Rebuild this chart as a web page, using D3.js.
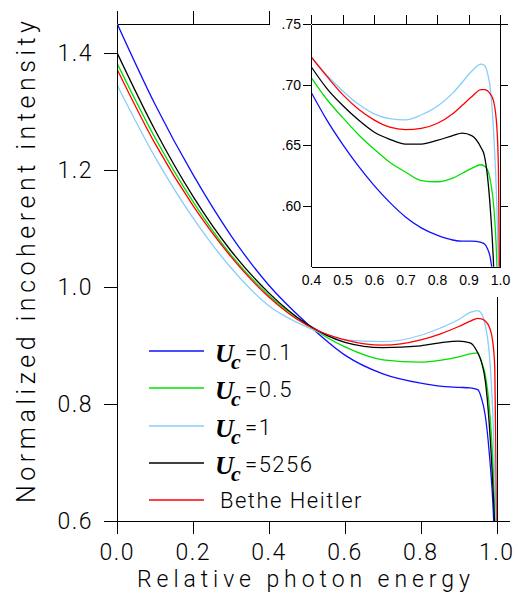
<!DOCTYPE html>
<html>
<head>
<meta charset="utf-8">
<script src="https://cdnjs.cloudflare.com/ajax/libs/d3/7.8.5/d3.min.js"></script>
<style>
body { margin: 0; background: #fff; }
svg { display: block; }
.axis path, .axis line { stroke: #000; stroke-width: 1; shape-rendering: crispEdges; }
.lbl { font-family: Roboto, sans-serif; font-weight: 300; fill: #000; }
.ilbl { font-family: "Liberation Sans", Arial, sans-serif; fill: #000; }
</style>
</head>
<body>
<svg id="chart" width="518" height="596"></svg>
<script>
// main plot data (relative photon energy vs normalized intensity)
var mainX = [0, 0.1, 0.2, 0.3, 0.4, 0.5, 0.6, 0.7, 0.8, 0.85, 0.9, 0.93, 0.95, 0.96, 0.97, 0.98, 0.99, 0.995, 1.0];
var mainBlue = [1.450, 1.312, 1.192, 1.088, 1.003, 0.938, 0.884, 0.852, 0.836, 0.831, 0.829, 0.828, 0.825, 0.810, 0.780, 0.720, 0.630, 0.560, 0.50];
var mainGreen = [1.382, 1.255, 1.146, 1.055, 0.986, 0.936, 0.898, 0.876, 0.872, 0.875, 0.881, 0.886, 0.888, 0.872, 0.850, 0.800, 0.700, 0.620, 0.50];
var mainLight = [1.345, 1.222, 1.118, 1.033, 0.968, 0.932, 0.910, 0.907, 0.918, 0.930, 0.945, 0.957, 0.960, 0.955, 0.935, 0.890, 0.780, 0.680, 0.55];
var mainBlack = [1.400, 1.268, 1.155, 1.062, 0.990, 0.937, 0.906, 0.897, 0.900, 0.905, 0.908, 0.905, 0.888, 0.872, 0.840, 0.770, 0.660, 0.590, 0.50];
var mainRed = [1.372, 1.245, 1.139, 1.052, 0.983, 0.935, 0.910, 0.901, 0.910, 0.920, 0.933, 0.942, 0.947, 0.946, 0.942, 0.933, 0.905, 0.860, 0.60];

// inset data
var insetX = [0.40, 0.45, 0.50, 0.55, 0.60, 0.65, 0.70, 0.75, 0.80, 0.85, 0.88, 0.91, 0.94, 0.95, 0.96, 0.97, 0.98, 0.99, 0.995, 1.00];
var insetBlue = [.694, .671, .651, .633, .617, .603, .591, .582, .576, .572, .571, .571, .570, .569, .565, .556, .530, .450, .400, .350];
var insetGreen = [.706, .688, .673, .659, .647, .636, .628, .621, .620, .623, .627, .631, .634, .633, .630, .620, .600, .552, .500, .450];
var insetLight = [.723, .708, .695, .684, .676, .672, .671, .675, .682, .693, .702, .711, .717, .716, .710, .695, .660, .600, .545, .480];
var insetBlack = [.715, .697, .683, .671, .661, .655, .651, .651, .654, .658, .660, .658, .648, .642, .625, .595, .548, .450, .400, .350];
var insetRed = [.723, .707, .692, .680, .671, .665, .663, .664, .668, .676, .683, .690, .696, .696, .695, .692, .686, .665, .630, .500];

var legendVals = ["0.1", "0.5", "1", "5256"];
var colors = ["#1010ff", "#00e000", "#87cefa", "#000000", "#ff0000"];

var mainSeries = [mainBlue, mainGreen, mainLight, mainBlack, mainRed];
var insetSeries = [insetBlue, insetGreen, insetLight, insetBlack, insetRed];

var svg = d3.select("#chart");

// MAIN PLOT
var mLeft = 117.3, mTop = 24, mRight = 496.7, mBottom = 521.3;
var x = d3.scaleLinear().domain([0, 1]).range([mLeft, mRight]);
var y = d3.scaleLinear().domain([0.6, 1.45]).range([mBottom, mTop]);

var defs = svg.append("defs");
defs.append("clipPath").attr("id", "clipMain")
    .append("rect").attr("x", mLeft).attr("y", mTop).attr("width", mRight - mLeft).attr("height", mBottom - mTop);

var line = d3.line()
    .x(d => x(d[0]))
    .y(d => y(d[1]))
    .curve(d3.curveMonotoneX);

var gMain = svg.append("g").attr("clip-path", "url(#clipMain)");
mainSeries.forEach(function(s, i) {
    gMain.append("path")
        .datum(mainX.map((v, j) => [v, s[j]]))
        .attr("d", line)
        .attr("fill", "none")
        .attr("stroke", colors[i])
        .attr("stroke-width", 1.3);
});

var xt = [0, 0.2, 0.4, 0.6, 0.8, 1.0];
var yt = [0.6, 0.8, 1.0, 1.2, 1.4];

svg.append("g").attr("class", "axis")
    .attr("transform", `translate(0, ${mBottom})`)
    .call(d3.axisBottom(x).tickValues(xt).tickSize(13).tickSizeOuter(0).tickFormat(""));
svg.append("g").attr("class", "axis")
    .attr("transform", `translate(0, ${mTop})`)
    .call(d3.axisTop(x).tickValues(xt).tickSize(13).tickSizeOuter(0).tickFormat(""));
svg.append("g").attr("class", "axis")
    .attr("transform", `translate(${mLeft}, 0)`)
    .call(d3.axisLeft(y).tickValues(yt).tickSize(13).tickSizeOuter(0).tickFormat(""));
svg.append("g").attr("class", "axis")
    .attr("transform", `translate(${mRight}, 0)`)
    .call(d3.axisRight(y).tickValues(yt).tickSize(13).tickSizeOuter(0).tickFormat(""));
svg.selectAll(".axis .tick text").remove();

// tick labels
svg.selectAll(".xlab").data(xt).enter().append("text")
    .attr("class", "lbl")
    .attr("x", d => x(d))
    .attr("y", 560)
    .attr("text-anchor", "middle")
    .attr("font-size", 23)
    .attr("letter-spacing", 1.5)
    .text(d => d3.format(".1f")(d));
svg.selectAll(".ylab").data(yt).enter().append("text")
    .attr("class", "lbl")
    .attr("x", 93)
    .attr("y", d => y(d) + 8)
    .attr("text-anchor", "end")
    .attr("font-size", 23)
    .attr("letter-spacing", 1.5)
    .text(d => d3.format(".1f")(d));

// axis titles
svg.append("text").attr("class", "lbl")
    .attr("x", 137).attr("y", 587)
    .attr("font-size", 23)
    .attr("textLength", 333).attr("lengthAdjust", "spacing")
    .text("Relative photon energy");
svg.append("text").attr("class", "lbl")
    .attr("transform", "translate(35, 503) rotate(-90)")
    .attr("font-size", 25)
    .attr("textLength", 482).attr("lengthAdjust", "spacing")
    .text("Normalized incoherent intensity");

// LEGEND
var legY = [351, 388, 426, 463, 500];
colors.forEach(function(c, i) {
    svg.append("line")
        .attr("x1", 149).attr("x2", 204)
        .attr("y1", legY[i]).attr("y2", legY[i])
        .attr("stroke", c).attr("stroke-width", 1.3);
    if (i < 4) {
        var t = svg.append("text").attr("y", legY[i] + 11);
        t.append("tspan").attr("x", 215)
            .attr("font-family", "Liberation Serif, serif")
            .attr("font-style", "italic").attr("font-weight", "bold")
            .attr("font-size", 26).text("U");
        t.append("tspan").attr("x", 231).attr("dy", 7)
            .attr("font-family", "Liberation Serif, serif")
            .attr("font-style", "italic").attr("font-weight", "bold")
            .attr("font-size", 22).text("c");
        t.append("tspan").attr("x", 245).attr("dy", -9)
            .attr("class", "lbl").attr("font-size", 22)
            .attr("letter-spacing", 1.5)
            .text("=" + legendVals[i]);
    } else {
        svg.append("text").attr("class", "lbl")
            .attr("x", 220).attr("y", legY[i] + 8)
            .attr("font-size", 22).attr("letter-spacing", 1.5)
            .text("Bethe Heitler");
    }
});

// INSET background (covers the upper right of the main frame)
svg.append("rect").attr("x", 270).attr("y", 0).attr("width", 248).attr("height", 274).attr("fill", "#fff");
svg.append("rect").attr("x", 292).attr("y", 274).attr("width", 226).attr("height", 23).attr("fill", "#fff");

var iLeft = 311, iRight = 500, iTop = 24, iBottom = 266.7;
var ix = d3.scaleLinear().domain([0.4, 1.0]).range([iLeft, iRight]);
var iy = d3.scaleLinear().domain([0.55, 0.75]).range([iBottom, iTop]);

defs.append("clipPath").attr("id", "clipInset")
    .append("rect").attr("x", iLeft).attr("y", iTop).attr("width", iRight - iLeft).attr("height", iBottom - iTop);

var iline = d3.line()
    .x(d => ix(d[0]))
    .y(d => iy(d[1]))
    .curve(d3.curveMonotoneX);

var gIn = svg.append("g").attr("clip-path", "url(#clipInset)");
insetSeries.forEach(function(s, i) {
    gIn.append("path")
        .datum(insetX.map((v, j) => [v, s[j]]))
        .attr("d", iline)
        .attr("fill", "none")
        .attr("stroke", colors[i])
        .attr("stroke-width", 1.3);
});

var ixt = [0.4, 0.5, 0.6, 0.7, 0.8, 0.9, 1.0];
var iyt = [0.60, 0.65, 0.70, 0.75];

svg.append("g").attr("class", "axis")
    .attr("transform", `translate(0, ${iBottom})`)
    .call(d3.axisBottom(ix).tickValues(ixt).tickSize(0).tickSizeOuter(0).tickPadding(8)
        .tickFormat(d3.format(".1f")))
    .selectAll("text").attr("class", "ilbl").attr("font-size", 14).attr("fill", "#000");
svg.append("g").attr("class", "axis")
    .attr("transform", `translate(0, ${iTop})`)
    .call(d3.axisTop(ix).tickValues(ixt).tickSize(9).tickSizeOuter(0).tickFormat(""));
svg.append("g").attr("class", "axis")
    .attr("transform", `translate(${iLeft}, 0)`)
    .call(d3.axisLeft(iy).tickValues(iyt).tickSize(8).tickSizeOuter(0).tickPadding(2)
        .tickFormat(d => d3.format(".2f")(d).replace(/^0/, "")))
    .selectAll("text").attr("class", "ilbl").attr("font-size", 14).attr("fill", "#000");
svg.append("g").attr("class", "axis")
    .attr("transform", `translate(${iRight}, 0)`)
    .call(d3.axisRight(iy).tickValues(iyt).tickSize(8).tickSizeOuter(0).tickFormat(""));
</script>
</body>
</html>
